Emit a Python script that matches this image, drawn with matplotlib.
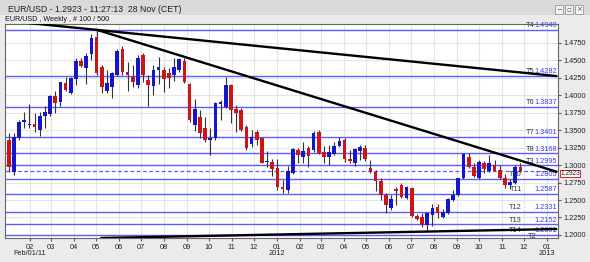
import numpy as np
import pandas as pd
import matplotlib
matplotlib.use('Agg')
import matplotlib.pyplot as plt
import matplotlib.dates as mdates
from matplotlib.patches import Rectangle

plt.rcParams['font.family'] = ['Liberation Sans Narrow', 'Liberation Sans', 'DejaVu Sans']

# weekly EUR/USD candles, first bar is the week of Mon 2011-01-03
week0 = '2011-01-03'
opens = [1.3360, 1.2906, 1.3384, 1.3620, 1.3575, 1.3590, 1.3504, 1.3708, 1.3729, 1.3995,
         1.3900, 1.4173, 1.4038, 1.4234, 1.4492, 1.4396, 1.4592, 1.4832, 1.4402, 1.4062,
         1.4115, 1.4292, 1.4664, 1.4339, 1.4267, 1.4148, 1.4578, 1.4220, 1.4134, 1.4363,
         1.4363, 1.4316, 1.4292, 1.4363, 1.4496, 1.4163, 1.3575, 1.3694, 1.3528, 1.3360,
         1.3385, 1.3872, 1.3837, 1.4148, 1.3800, 1.3790, 1.3542, 1.3299, 1.3479, 1.3385,
         1.3040, 1.3050, 1.2955, 1.2692, 1.2644, 1.2883, 1.3217, 1.3121, 1.3241, 1.3217,
         1.3479, 1.3193, 1.3121, 1.3160, 1.3274, 1.3360, 1.3092, 1.3035, 1.3203, 1.3241,
         1.2964, 1.2898, 1.2773, 1.2572, 1.2382, 1.2655, 1.2716, 1.2525, 1.2668, 1.2271,
         1.2253, 1.2143, 1.2286, 1.2396, 1.2253, 1.2319, 1.2501, 1.2572, 1.2812, 1.3121,
         1.2978, 1.2812, 1.3026, 1.2920, 1.3002, 1.2931, 1.2812, 1.2716, 1.2749, 1.2969]
highs = [1.3456, 1.3465, 1.3640, 1.3757, 1.3876, 1.3743, 1.3757, 1.3847, 1.4002, 1.4062,
         1.4195, 1.4267, 1.4267, 1.4531, 1.4540, 1.4611, 1.4875, 1.4940, 1.4435, 1.4363,
         1.4340, 1.4664, 1.4707, 1.4482, 1.4435, 1.4578, 1.4600, 1.4292, 1.4435, 1.4545,
         1.4402, 1.4396, 1.4531, 1.4531, 1.4531, 1.4173, 1.3948, 1.3790, 1.3694, 1.3528,
         1.3900, 1.3933, 1.4267, 1.4160, 1.3862, 1.3814, 1.3575, 1.3504, 1.3504, 1.3400,
         1.3207, 1.3083, 1.3083, 1.2787, 1.2988, 1.3240, 1.3240, 1.3336, 1.3274, 1.3494,
         1.3504, 1.3274, 1.3283, 1.3336, 1.3399, 1.3383, 1.3217, 1.3240, 1.3289, 1.3289,
         1.3074, 1.2925, 1.2812, 1.2596, 1.2572, 1.2690, 1.2740, 1.2702, 1.2683, 1.2296,
         1.2319, 1.2320, 1.2440, 1.2440, 1.2370, 1.2530, 1.2640, 1.2815, 1.3179, 1.3174,
         1.3030, 1.3080, 1.3060, 1.3145, 1.3070, 1.3000, 1.2880, 1.2800, 1.3000, 1.3026]
lows = [1.2906, 1.2859, 1.3360, 1.3528, 1.3528, 1.3479, 1.3422, 1.3528, 1.3708, 1.3743,
        1.3852, 1.4062, 1.4026, 1.4148, 1.4400, 1.4158, 1.4506, 1.4292, 1.4038, 1.4038,
        1.3966, 1.4280, 1.4292, 1.4062, 1.4124, 1.4101, 1.4187, 1.3847, 1.4005, 1.4158,
        1.4052, 1.4101, 1.4206, 1.4340, 1.4173, 1.3623, 1.3489, 1.3385, 1.3336, 1.3145,
        1.3360, 1.3647, 1.3814, 1.3600, 1.3479, 1.3489, 1.3217, 1.3264, 1.3289, 1.3026,
        1.2969, 1.2845, 1.2644, 1.2605, 1.2605, 1.2872, 1.3026, 1.3026, 1.2969, 1.3193,
        1.3164, 1.3026, 1.3002, 1.3145, 1.3260, 1.3050, 1.3026, 1.2988, 1.3074, 1.3064,
        1.2892, 1.2634, 1.2501, 1.2319, 1.2357, 1.2429, 1.2525, 1.2511, 1.2253, 1.2210,
        1.2118, 1.2047, 1.2135, 1.2240, 1.2240, 1.2300, 1.2480, 1.2560, 1.2800, 1.2959,
        1.2830, 1.2800, 1.2890, 1.2900, 1.2910, 1.2800, 1.2673, 1.2660, 1.2730, 1.2900]
closes = [1.2975, 1.3408, 1.3623, 1.3640, 1.3595, 1.3540, 1.3708, 1.3757, 1.3995, 1.3895,
          1.4187, 1.4077, 1.4253, 1.4496, 1.4425, 1.4564, 1.4817, 1.4316, 1.4115, 1.4173,
          1.4325, 1.4640, 1.4339, 1.4292, 1.4187, 1.4539, 1.4292, 1.4148, 1.4363, 1.4402,
          1.4230, 1.4244, 1.4402, 1.4516, 1.4195, 1.3647, 1.3800, 1.3465, 1.3360, 1.3393,
          1.3886, 1.3900, 1.4148, 1.3790, 1.3743, 1.3504, 1.3250, 1.3408, 1.3360, 1.3035,
          1.3060, 1.2940, 1.2683, 1.2654, 1.2920, 1.3227, 1.3145, 1.3207, 1.3131, 1.3456,
          1.3178, 1.3112, 1.3193, 1.3274, 1.3346, 1.3083, 1.3064, 1.3227, 1.3256, 1.3083,
          1.2906, 1.2777, 1.2572, 1.2429, 1.2511, 1.2625, 1.2549, 1.2683, 1.2271, 1.2224,
          1.2143, 1.2310, 1.2382, 1.2310, 1.2332, 1.2511, 1.2572, 1.2812, 1.3160, 1.2978,
          1.2845, 1.3050, 1.2941, 1.3026, 1.2920, 1.2812, 1.2716, 1.2763, 1.2975, 1.2923]

# horizontal levels drawn on the chart
level_names = ['T4', 'T5', 'T6', 'T7', 'T8', 'T3', 'T10', 'T11', 'T12', 'T13', 'T14']
level_prices = [1.4940, 1.4282, 1.3837, 1.3401, 1.3168, 1.2995, 1.2805, 1.2587, 1.2331, 1.2152, 1.2001]
last_price = 1.2923

# trend lines (start, end)
trend_dates = [['2011-01-29', '2013-01-15'], ['2011-05-02', '2013-01-15'], ['2011-05-07', '2013-01-15']]
trend_prices = [[1.5037, 1.4275], [1.4940, 1.2902], [1.1956, 1.2085]]

W, H = 590, 262
fig = plt.figure(figsize=(W/100, H/100), dpi=100, facecolor='#ebebeb')

# window chrome
fig.patches.append(Rectangle((0, 1-15/H), 1, 15/H, transform=fig.transFigure,
                             facecolor='#d9d9d9', edgecolor='none', zorder=0))
fig.text(8/W, 1-9/H, 'EUR/USD - 1.2923 - 11:27:13  28 Nov (CET)', fontsize=6.3,
         color='#222222', va='center', ha='left')
fig.text(5/W, 1-19.5/H, 'EUR/USD , Weekly , # 100 / 500', fontsize=5.2,
         color='#111111', va='center', ha='left')
for bx, sym in zip([555, 565, 575], ['\u2212', '\u25ab', '\u00d7']):
  fig.patches.append(Rectangle((bx/W, 1-14/H), 8/W, 9/H, transform=fig.transFigure,
                               facecolor='#f2f2f2', edgecolor='#999999', lw=0.6))
  fig.text((bx+4)/W, 1-9.5/H, sym, fontsize=5, color='#555555', ha='center', va='center',
           family='DejaVu Sans')

ax = fig.add_axes([5/W, 1-238/H, (558-5)/W, (238-24)/H])
ax.set_facecolor('white')

x = mdates.date2num(pd.date_range(week0, periods=len(opens), freq='7D'))
o = np.array(opens); h = np.array(highs); l = np.array(lows); c = np.array(closes)
up = c >= o

ax.set_xlim(mdates.datestr2num('2010-12-29'), mdates.datestr2num('2013-01-16'))
ax.set_ylim(1.1956, 1.5022)

# grid
months = pd.date_range('2011-02-01', '2013-01-01', freq='MS')
mx = mdates.date2num(months)
for v in mx:
  ax.axvline(v, color='#e4e4e4', lw=0.8, zorder=0)
yt = np.arange(1.2, 1.4751, 0.025)
for v in yt:
  ax.axhline(v, color='#e4e4e4', lw=0.8, zorder=0)

# levels
for name, p in zip(level_names, level_prices):
  ax.axhline(p, color='#5c5cff', lw=1.0, zorder=1)
  ax.text(0.998, p + 0.0011, '%.4f' % p, transform=ax.get_yaxis_transform(), fontsize=5.3,
          color='#3a3aff', ha='right', va='bottom', zorder=2)
  tx = 0.958 if p > 1.29 else 0.935
  ax.text(tx, p + 0.0011, name, transform=ax.get_yaxis_transform(), fontsize=5.3,
          color='#333333', ha='right', va='bottom', zorder=2)
ax.text(0.961, 1.1972, 'T2', transform=ax.get_yaxis_transform(), fontsize=5.3,
        color='#333333', ha='right', va='center', zorder=2)
ax.axhline(last_price, color='#5c5cff', lw=0.9, ls=(0, (3, 2)), zorder=1)

# candles
wd = 5.0
ax.vlines(x, l, h, color='#333333', lw=0.8, zorder=3)
body_lo = np.minimum(o, c)
body_h = np.maximum(np.abs(c - o), 0.0008)
ax.bar(x[up], body_h[up], bottom=body_lo[up], width=wd, color='#1515cc', zorder=4)
ax.bar(x[~up], body_h[~up], bottom=body_lo[~up], width=wd, color='#cc1515', zorder=4)

# trend lines
for td, tp in zip(trend_dates, trend_prices):
  ax.plot(mdates.datestr2num(td), tp, color='black', lw=1.7, zorder=5, solid_capstyle='butt')

# axes
for s in ax.spines.values():
  s.set_color('#666666')
  s.set_linewidth(0.8)
ax.yaxis.tick_right()
ax.set_yticks(yt)
ax.set_yticklabels(['%.4f' % v for v in yt])
ax.set_xticks(mx)
ax.set_xticklabels(months.strftime('%m'))
ax.tick_params(axis='both', colors='#dd2222', length=2.5, width=0.8, labelsize=5.3,
               labelcolor='#222222', pad=1.5)

# last price box on the axis (nudged down so it clears the 1.3000 label)
ax.text(1.004, last_price - 0.0042, '%.4f' % last_price, transform=ax.get_yaxis_transform(),
        fontsize=4.7, color='#222222', ha='left', va='center', zorder=6, clip_on=False,
        bbox=dict(boxstyle='square,pad=0.06', fc='white', ec='#dd2222', lw=0.7))

# second row of date labels
for d, lab in [('2011-02-01', 'Feb/01/11'), ('2012-01-01', '2012'), ('2013-01-01', '2013')]:
  ax.text(mdates.datestr2num(d), -0.072, lab, transform=ax.get_xaxis_transform(),
          fontsize=5.3, color='#222222', ha='center', va='center', clip_on=False)

fig.savefig('out.png', dpi=100, facecolor=fig.get_facecolor())
